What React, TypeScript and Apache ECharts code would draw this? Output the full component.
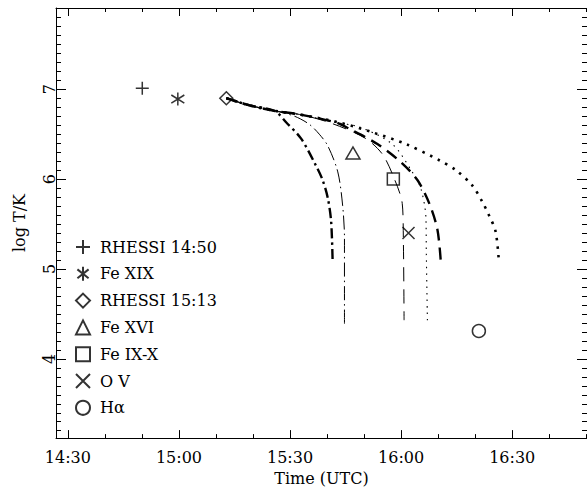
import React, { useEffect, useRef } from "react";
import * as echarts from "echarts";

// ---- Axis definitions (time in minutes since 00:00 UTC) ----
const xTickValues = [870, 900, 930, 960, 990];
const xTickLabels = ["14:30", "15:00", "15:30", "16:00", "16:30"];
const xMinorValues = [880, 890, 910, 920, 940, 950, 970, 980, 1000, 1010];
const yTickValues = [4, 5, 6, 7];
const yTickLabels = ["4", "5", "6", "7"];
const yMinorValues = [
  3.2, 3.3, 3.4, 3.5, 3.6, 3.7, 3.8, 3.9, 4.1, 4.2, 4.3, 4.4, 4.5, 4.6, 4.7, 4.8, 4.9,
  5.1, 5.2, 5.3, 5.4, 5.5, 5.6, 5.7, 5.8, 5.9, 6.1, 6.2, 6.3, 6.4, 6.5, 6.6, 6.7, 6.8, 6.9,
  7.1, 7.2, 7.3, 7.4, 7.5, 7.6, 7.7, 7.8, 7.9,
];

// ---- Observed temperatures (markers) ----
const markerNames = ["RHESSI 14:50", "Fe XIX", "RHESSI 15:13", "Fe XVI", "Fe IX-X", "O V", "Hα"];
const markerTimes = [890.1, 899.7, 912.8, 947.0, 957.9, 962.0, 981.0];
const markerLogT = [7.01, 6.89, 6.9, 6.29, 6.0, 5.4, 4.31];

// ---- Model cooling curves ----
const curve1Times = [912.8, 919.1, 925.8, 929.0, 933.0, 937.0, 938.8, 940.2, 941.1, 941.5];
const curve1LogT = [6.9, 6.82, 6.76, 6.63, 6.45, 6.15, 5.99, 5.79, 5.53, 5.09];
const curve2Times = [912.8, 919.1, 925.8, 931.2, 935.2, 937.9, 940.2, 942.9, 944.2, 944.7, 944.7];
const curve2LogT = [6.9, 6.82, 6.76, 6.7, 6.61, 6.5, 6.37, 6.08, 5.71, 5.35, 4.39];
const curve3Times = [912.8, 919.1, 925.8, 932.5, 940.6, 950.1, 954.9, 958.1, 960.3, 960.6, 960.8];
const curve3LogT = [6.9, 6.82, 6.76, 6.72, 6.63, 6.46, 6.28, 6.01, 5.73, 5.35, 4.43];
const curve4Times = [912.8, 919.1, 925.8, 932.5, 942.4, 948.7, 957.6, 963.0, 965.3, 966.7, 966.8, 967.1];
const curve4LogT = [6.9, 6.82, 6.76, 6.72, 6.63, 6.58, 6.39, 6.08, 5.9, 5.57, 5.2, 4.43];
const curve5Times = [912.8, 919.1, 925.8, 932.5, 942.4, 946.0, 953.6, 959.9, 964.4, 967.6, 969.8, 970.7];
const curve5LogT = [6.9, 6.82, 6.76, 6.72, 6.63, 6.56, 6.39, 6.19, 5.99, 5.73, 5.44, 5.09];
const curve6Times = [912.8, 919.1, 925.8, 932.5, 943.3, 952.3, 961.3, 970.3, 974.8, 979.2, 981.9, 983.7, 985.5, 986.4];
const curve6LogT = [6.9, 6.82, 6.76, 6.72, 6.63, 6.52, 6.39, 6.21, 6.1, 5.93, 5.75, 5.6, 5.42, 5.09];

const X_MIN = 866.8;
const X_MAX = 1010.2;
const Y_MIN = 3.118;
const Y_MAX = 7.904;

const FONT = "DejaVu Serif";

const markerSymbols = [
  "path://M0,6L12,6M6,0L6,12",
  "path://M6,0L6,12M1.2,2.2L10.8,9.8M1.2,9.8L10.8,2.2",
  "diamond",
  "triangle",
  "rect",
  "path://M0,0L12,12M0,12L12,0",
  "circle",
];
const markerSizes = [13, 13, [13, 13], [14, 12], 12, 12, 13];

const curves = [
  { t: curve1Times, v: curve1LogT, width: 2.4, dash: [10, 4, 2.5, 4] },
  { t: curve2Times, v: curve2LogT, width: 1, dash: [14, 4, 1.5, 4] },
  { t: curve3Times, v: curve3LogT, width: 1, dash: [14, 8] },
  { t: curve4Times, v: curve4LogT, width: 1.1, dash: [1.5, 5] },
  { t: curve5Times, v: curve5LogT, width: 2.4, dash: [12, 7] },
  { t: curve6Times, v: curve6LogT, width: 2.6, dash: [2.5, 6] },
];

export default function App() {
  const ref = useRef<HTMLDivElement>(null);
  useEffect(() => {
    if (!ref.current) return;
    const chart = echarts.init(ref.current, null, { renderer: "svg" });
    const black = "#000";
    const xBase = {
      type: "value",
      min: X_MIN,
      max: X_MAX,
      splitLine: { show: false },
    };
    const yBase = {
      type: "value",
      min: Y_MIN,
      max: Y_MAX,
      splitLine: { show: false },
    };
    const labelStyle = { color: black, fontFamily: FONT, fontSize: 16 };
    const option: any = {
      animation: false,
      backgroundColor: "#fff",
      grid: { left: 56, right: -1, top: 8, bottom: 49, containLabel: false },
      xAxis: [
        {
          ...xBase,
          position: "bottom",
          axisLine: { show: true, lineStyle: { color: black, width: 1 } },
          axisTick: { show: true, inside: true, length: 8, customValues: xTickValues, lineStyle: { color: black } },
          axisLabel: {
            show: true,
            customValues: xTickValues,
            formatter: (v: number) => {
              const i = xTickValues.findIndex((x) => Math.abs(x - v) < 0.01);
              return i >= 0 ? xTickLabels[i] : "";
            },
            margin: 11,
            ...labelStyle,
          },
          name: "Time (UTC)",
          nameLocation: "middle",
          nameGap: 31,
          nameTextStyle: labelStyle,
        },
        {
          ...xBase,
          position: "bottom",
          axisLine: { show: false },
          axisTick: { show: true, inside: true, length: 4, customValues: xMinorValues, lineStyle: { color: black } },
          axisLabel: { show: false },
        },
        {
          ...xBase,
          position: "top",
          axisLine: { show: true, lineStyle: { color: black, width: 1 } },
          axisTick: { show: true, inside: true, length: 8, customValues: xTickValues, lineStyle: { color: black } },
          axisLabel: { show: false },
        },
        {
          ...xBase,
          position: "top",
          axisLine: { show: false },
          axisTick: { show: true, inside: true, length: 4, customValues: xMinorValues, lineStyle: { color: black } },
          axisLabel: { show: false },
        },
      ],
      yAxis: [
        {
          ...yBase,
          position: "left",
          axisLine: { show: true, lineStyle: { color: black, width: 1 } },
          axisTick: { show: true, inside: true, length: 10, customValues: yTickValues, lineStyle: { color: black } },
          axisLabel: {
            show: true,
            customValues: yTickValues,
            rotate: 90,
            formatter: (v: number) => {
              const i = yTickValues.findIndex((y) => Math.abs(y - v) < 0.001);
              return i >= 0 ? yTickLabels[i] : "";
            },
            margin: -1,
            ...labelStyle,
          },
          name: "log T/K",
          nameLocation: "middle",
          nameRotate: 90,
          nameGap: 29,
          nameTextStyle: labelStyle,
        },
        {
          ...yBase,
          position: "left",
          axisLine: { show: false },
          axisTick: { show: true, inside: true, length: 5, customValues: yMinorValues, lineStyle: { color: black } },
          axisLabel: { show: false },
        },
        {
          ...yBase,
          position: "right",
          axisLine: { show: true, lineStyle: { color: black, width: 1 } },
          axisTick: { show: true, inside: true, length: 10, customValues: yTickValues, lineStyle: { color: black } },
          axisLabel: { show: false },
        },
        {
          ...yBase,
          position: "right",
          axisLine: { show: false },
          axisTick: { show: true, inside: true, length: 5, customValues: yMinorValues, lineStyle: { color: black } },
          axisLabel: { show: false },
        },
      ],
      legend: {
        data: markerNames,
        orient: "vertical",
        left: 70,
        top: 234,
        itemWidth: 14,
        itemHeight: 14,
        itemGap: 10.8,
        selectedMode: false,
        textStyle: { ...labelStyle, padding: [0, 0, 0, 5] },
      },
      series: [
        ...curves.map((c, i) => ({
          name: "curve" + (i + 1),
          type: "line",
          xAxisIndex: 0,
          yAxisIndex: 0,
          data: c.t.map((t, j) => [t, c.v[j]]),
          showSymbol: false,
          symbol: "none",
          smooth: 0.3,
          lineStyle: { color: black, width: c.width, type: c.dash, cap: "butt" },
          silent: true,
          z: 2,
        })),
        ...markerNames.map((name, i) => ({
          name,
          type: "scatter",
          xAxisIndex: 0,
          yAxisIndex: 0,
          data: [[markerTimes[i], markerLogT[i]]],
          symbol: markerSymbols[i],
          symbolSize: markerSizes[i],
          itemStyle: { color: "rgba(0,0,0,0)", borderColor: black, borderWidth: 1.5 },
          z: 3,
        })),
      ],
    };
    chart.setOption(option);
    return () => chart.dispose();
  }, []);
  return (
    <div
      ref={ref}
      style={{ position: "fixed", left: 0, top: 0, width: 587, height: 491, background: "#fff" }}
    />
  );
}
